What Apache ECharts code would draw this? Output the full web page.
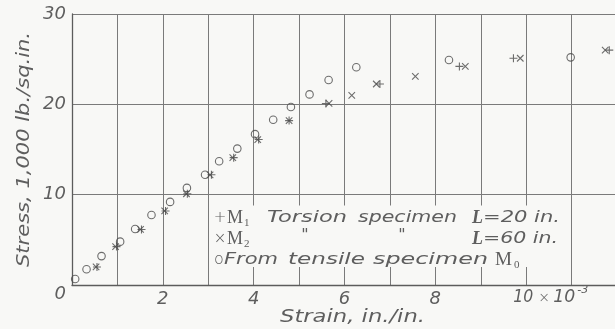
<!DOCTYPE html>
<html>
<head>
<meta charset="utf-8">
<script src="https://cdn.jsdelivr.net/npm/echarts@6/dist/echarts.min.js"></script>
<style>
  html, body { margin: 0; padding: 0; background: #f8f8f6; }
  #chart { width: 615px; height: 329px; }
</style>
</head>
<body>
<div id="chart"></div>
<script>
// Strain in units of 10^-3 in./in., stress in 1,000 lb./sq.in.
const strainRange = [0, 12];
const stressRange = [0, 30];
const strainLabelValues = [2, 4, 6, 8];
const stressLabelValues = [0, 10, 20, 30];

// From tensile specimen M0  [strain, stress]
const tensileM0 = [
  [0.07, 0.66], [0.32, 1.74], [0.65, 3.2], [1.06, 4.8], [1.39, 6.2],
  [1.75, 7.75], [2.16, 9.2], [2.53, 10.75], [2.93, 12.2], [3.24, 13.7],
  [3.64, 15.1], [4.03, 16.7], [4.43, 18.3], [4.82, 19.7], [5.23, 21.1],
  [5.65, 22.7], [6.26, 24.1], [8.30, 24.9], [10.98, 25.2]
];
// Torsion specimen M1, L = 20 in.
const torsionM1 = [
  [0.55, 2.0], [0.98, 4.25], [1.53, 6.15], [2.06, 8.2], [2.54, 10.1],
  [3.07, 12.2], [3.56, 14.1], [4.11, 16.1], [4.78, 18.2], [5.59, 20.1],
  [6.78, 22.25], [8.53, 24.2], [9.72, 25.1], [11.83, 26.0]
];
// Torsion specimen M2, L = 60 in.
const torsionM2 = [
  [0.53, 2.0], [0.96, 4.25], [1.51, 6.15], [2.04, 8.2], [2.52, 10.1],
  [3.04, 12.2], [3.54, 14.1], [4.09, 16.1], [4.78, 18.2], [5.66, 20.1],
  [6.16, 21.0], [6.70, 22.25], [7.56, 23.1], [8.66, 24.2], [9.87, 25.1],
  [11.74, 26.0]
];

const INK = '#5e5e5e';
const GRID = '#7a7a7a';
const MARK = '#4a4a4a';
const SANS = '"DejaVu Sans"';
const SERIF = '"Liberation Serif"';
const LIGHT = 200;
const LABEL_FONT = 'italic ' + LIGHT + ' 18px ' + SANS;

const PLUS = 'path://M5,0V10M0,5H10';
const CROSS = 'path://M0,0L10,10M10,0L0,10';

const chart = echarts.init(document.getElementById('chart'), null, { renderer: 'canvas' });

const markStyle = { color: 'transparent', borderColor: MARK, borderWidth: 1.1 };

chart.setOption({
  backgroundColor: '#f8f8f6',
  animation: false,
  grid: { left: 72, top: 14, width: 545, height: 271, containLabel: false, outerBoundsMode: 'none' },
  xAxis: {
    type: 'value', min: strainRange[0], max: strainRange[1], interval: 1,
    axisLine: { show: true, onZero: false, lineStyle: { color: '#5c5c5c', width: 1.3 } },
    axisTick: { show: false },
    splitLine: { show: true, lineStyle: { color: GRID, width: 1 } },
    axisLabel: {
      margin: 5, color: INK, fontFamily: SANS, fontStyle: 'italic', fontWeight: LIGHT, fontSize: 18,
      formatter: v => strainLabelValues.includes(v) ? String(v) : ''
    }
  },
  yAxis: {
    type: 'value', min: stressRange[0], max: stressRange[1], interval: 10,
    axisLine: { show: true, onZero: false, lineStyle: { color: '#5c5c5c', width: 1.3 } },
    axisTick: { show: false },
    splitLine: { show: true, lineStyle: { color: GRID, width: 1 } },
    axisLabel: {
      margin: 6, color: INK, fontFamily: SANS, fontStyle: 'italic', fontWeight: LIGHT, fontSize: 18,
      formatter: v => stressLabelValues.includes(v) ? (v === 0 ? '{z|0}' : String(v)) : '',
      rich: { z: { padding: [19, 0, 0, 0], color: INK, fontFamily: SANS, fontStyle: 'italic', fontWeight: LIGHT, fontSize: 18 } }
    }
  },
  series: [
    {
      name: 'M0', type: 'scatter', data: tensileM0,
      symbol: 'circle', symbolSize: 7.5, itemStyle: markStyle,
      emphasis: { disabled: true }, silent: true,
      // clear area behind the key text
      markArea: {
        silent: true,
        itemStyle: { color: '#f8f8f6', borderWidth: 0 },
        data: [[{ coord: [3.04, 2.0] }, { coord: [10.96, 8.8] }]]
      }
    },
    {
      name: 'M1', type: 'scatter', data: torsionM1,
      symbol: PLUS, symbolSize: 8, itemStyle: markStyle,
      emphasis: { disabled: true }, silent: true
    },
    {
      name: 'M2', type: 'scatter', data: torsionM2,
      symbol: CROSS, symbolSize: 6.5, itemStyle: markStyle,
      emphasis: { disabled: true }, silent: true
    }
  ]
});

// Text pieces stretched to the wide drafting lettering
const meas = document.createElement('canvas').getContext('2d');
function txt(s, x, y, font, w, extra) {
  meas.font = font;
  const m = meas.measureText(s).width;
  const align = (extra && extra.align) || 'left';
  return Object.assign({
    type: 'text', x: x, y: y, z: 100, silent: true,
    scaleX: w ? w / m : 1,
    style: {
      text: s, font: font, fill: INK,
      textAlign: align, align: align,
      textVerticalAlign: 'middle', verticalAlign: 'middle'
    }
  }, extra ? { rotation: extra.rotation || 0 } : {});
}

const body = 'italic ' + LIGHT + ' 16px ' + SANS;
const serif = '19px ' + SERIF;
const serifSub = '11px ' + SERIF;
const serifL = 'italic bold 18px ' + SERIF;

const p10 = chart.convertToPixel({ gridIndex: 0 }, [10, 0]);

const graphics = [
  // axis titles
  txt('Strain, in./in.', 280, 317, LABEL_FONT, 145),
  txt('Stress, 1,000 lb./sq.in.', 24, 149.5, LABEL_FONT, 235, { align: 'center', rotation: Math.PI / 2 }),
  // 10 x 10^-3 tick label
  txt('10', p10[0] - 13, p10[1] + 12, LABEL_FONT, 20),
  txt('×', p10[0] + 18, p10[1] + 13, LIGHT + ' 14px ' + SANS, 0, { align: 'center' }),
  txt('10', p10[0] + 27, p10[1] + 12, LABEL_FONT, 22),
  txt('-3', p10[0] + 51, p10[1] + 5, 'italic ' + LIGHT + ' 11px ' + SANS, 0),
  // key, row 1
  txt('+', 220, 218, LIGHT + ' 15px ' + SANS, 0, { align: 'center' }),
  txt('M', 227, 218, serif, 16),
  txt('1', 244, 223, serifSub, 0),
  txt('Torsion', 267, 218, body, 80),
  txt('specimen', 358, 218, body, 99),
  txt('L', 472, 218, serifL, 11),
  txt('=20 in.', 483, 218, body, 77),
  // key, row 2
  txt('×', 220, 239, LIGHT + ' 15px ' + SANS, 0, { align: 'center' }),
  txt('M', 227, 239, serif, 16),
  txt('2', 244, 244, serifSub, 0),
  txt('"', 305, 236, body, 0, { align: 'center' }),
  txt('"', 402, 236, body, 0, { align: 'center' }),
  txt('L', 472, 239, serifL, 11),
  txt('=60 in.', 483, 239, body, 75),
  // key, row 3
  txt('o', 219, 260, LIGHT + ' 16px ' + SANS, 0, { align: 'center' }),
  txt('From', 224, 260, body, 54),
  txt('tensile', 288, 260, body, 77),
  txt('specimen', 373, 260, body, 115),
  txt('M', 495, 260, serif, 17),
  txt('0', 514, 265, serifSub, 0)
];

chart.setOption({ graphic: { elements: graphics } });
</script>
</body>
</html>
